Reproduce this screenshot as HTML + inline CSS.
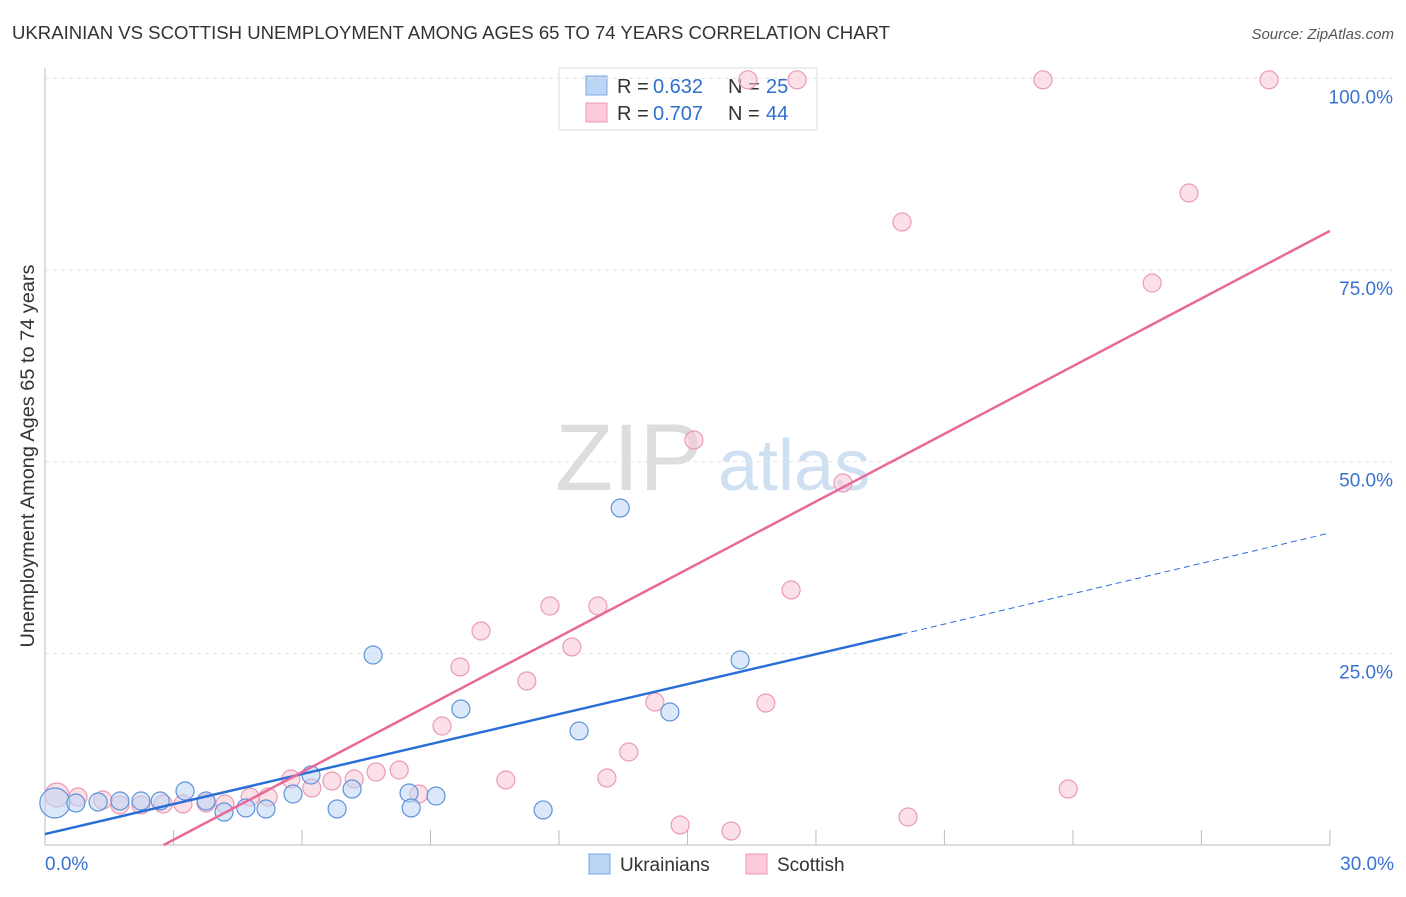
<!DOCTYPE html>
<html><head><meta charset="utf-8"><style>
body{margin:0;background:#fff;font-family:"Liberation Sans",sans-serif}
svg text{font-family:"Liberation Sans",sans-serif}
</style></head><body>
<svg id="c" width="1406" height="892">
<text x="12" y="39" font-size="18" fill="#333" textLength="878" lengthAdjust="spacingAndGlyphs">UKRAINIAN VS SCOTTISH UNEMPLOYMENT AMONG AGES 65 TO 74 YEARS CORRELATION CHART</text>
<text x="1394" y="39" font-size="15" fill="#555" text-anchor="end" font-style="italic">Source: ZipAtlas.com</text>
<text x="34" y="456" font-size="19" fill="#333" text-anchor="middle" textLength="383" lengthAdjust="spacingAndGlyphs" transform="rotate(-90 34 456)">Unemployment Among Ages 65 to 74 years</text>
<g><text x="555" y="490" font-size="95" fill="#ddd" font-family="Liberation Serif">ZIP</text><text x="718" y="490" font-size="72" fill="#cfe0f3">atlas</text></g>
<g>
<rect x="559" y="68" width="258" height="62" fill="#fff" stroke="#ddd"/>
<rect x="586" y="76" width="21" height="19" fill="#bcd5f5" stroke="#7aa6e0"/>
<text x="617" y="93" font-size="20" fill="#333">R =</text><text x="653" y="93" font-size="20" fill="#2f6fd0">0.632</text>
<text x="728" y="93" font-size="20" fill="#333">N =</text><text x="766" y="93" font-size="20" fill="#2f6fd0">25</text>
<rect x="586" y="103" width="21" height="19" fill="#fccadb" stroke="#ec9bb6"/>
<text x="617" y="120" font-size="20" fill="#333">R =</text><text x="653" y="120" font-size="20" fill="#2f6fd0">0.707</text>
<text x="728" y="120" font-size="20" fill="#333">N =</text><text x="766" y="120" font-size="20" fill="#2f6fd0">44</text>
</g>
<g id="grid"></g><g id="marks"></g>
<g>
<rect x="589" y="854" width="21" height="20" fill="#bcd5f5" stroke="#7aa6e0"/><text x="620" y="871" font-size="19" fill="#333">Ukrainians</text>
<rect x="746" y="854" width="21" height="20" fill="#fccadb" stroke="#ec9bb6"/><text x="777" y="871" font-size="19" fill="#333">Scottish</text>
</g>
</svg>
<script>
const blueX=[0.23,0.72,1.24,1.75,2.24,2.69,3.27,3.76,4.18,4.69,5.16,5.79,6.21,6.82,7.17,7.66,8.50,8.55,9.13,9.71,11.63,12.47,13.43,14.59,16.23];
const blueY=[5.48,5.48,5.61,5.74,5.74,5.74,7.04,5.74,4.30,4.83,4.70,6.65,9.13,4.70,7.30,24.78,6.78,4.83,6.39,17.74,4.57,14.87,43.95,17.35,24.13];
const pinkX=[0.28,0.77,1.35,1.75,2.24,2.76,3.22,3.76,4.20,4.79,5.21,5.74,6.23,6.70,7.22,7.73,8.27,8.73,9.27,9.69,10.18,10.76,11.25,11.79,12.30,12.91,13.12,13.63,14.24,14.83,15.15,16.02,16.41,16.83,17.42,17.56,18.63,20.01,20.15,23.30,23.89,25.85,26.71,28.58];
const pinkY=[6.52,6.26,5.87,5.22,5.22,5.35,5.35,5.48,5.35,6.26,6.26,8.61,7.43,8.35,8.61,9.52,9.78,6.65,15.52,23.22,27.91,8.48,21.39,31.17,25.83,31.17,8.74,12.13,18.65,2.61,52.82,1.83,99.8,18.52,33.26,99.8,47.22,81.26,3.65,99.8,7.30,73.30,85.04,99.8];
const blueTrend=[[0,1.43],[20.0,27.5],[30,40.7]];
const pinkTrend=[[2.77,0],[30,80.1]];
const yTicks=[25,50,75,100];
const xTicks=[0,3,6,9,12,15,18,21,24,27,30];
const NS="http://www.w3.org/2000/svg";
const sx=v=>45+v*42.83, sy=v=>845-v*7.667;
function mk(t,a,p){const e=document.createElementNS(NS,t);for(const k in a)e.setAttribute(k,a[k]);p.appendChild(e);return e;}
const g=document.getElementById('grid'), m=document.getElementById('marks');
yTicks.forEach(v=>{
 const l=mk('line',{x1:45,x2:1394,y1:sy(v),y2:sy(v),stroke:'#e3e3e3','stroke-dasharray':'4 4'},g);
 
 
 const t=mk('text',{x:1393,y:sy(v)+25,'font-size':19,fill:'#3a72d0','text-anchor':'end'},g);t.textContent=v.toFixed(1)+'%';
 
 
});
mk('line',{x1:45,x2:45,y1:68,y2:845,stroke:'#bbb'},g);
mk('line',{x1:45,x2:1330,y1:845,y2:845,stroke:'#bbb'},g);
xTicks.forEach(v=>{const l=mk('line',{x1:sx(v),x2:sx(v),y1:830,y2:845,stroke:'#bbb'},g);
 
 });
[[0,'0.0%','start',45],[30,'30.0%','end',1394]].forEach(a=>{const t=mk('text',{x:a[3],y:870,'font-size':19,fill:'#3a72d0','text-anchor':a[2]},g);t.textContent=a[1];
 
 });
function dots(X,Y,fill,stroke,name){X.forEach((x,i)=>{const r=i==0?(name=='blue-point'?15:12):9;
 const c=mk('circle',{cx:sx(x),cy:sy(Y[i]),r:r,fill:fill,'fill-opacity':0.55,stroke:stroke,'stroke-width':1.2},m);
 
 });}
dots(pinkX,pinkY,'#f8c6d6','#eb9ab5','scottish-point');
dots(blueX,blueY,'#bcd5f5','#5f93dc','blue-point');
const bl=mk('line',{x1:sx(blueTrend[0][0]),y1:sy(blueTrend[0][1]),x2:sx(blueTrend[1][0]),y2:sy(blueTrend[1][1]),stroke:'#2a6fd6','stroke-width':2.5},m);


const bd=mk('line',{x1:sx(blueTrend[1][0]),y1:sy(blueTrend[1][1]),x2:sx(blueTrend[2][0]),y2:sy(blueTrend[2][1]),stroke:'#2a6fd6','stroke-width':1,'stroke-dasharray':'6 4'},m);


const pl=mk('line',{x1:sx(pinkTrend[0][0]),y1:sy(pinkTrend[0][1]),x2:sx(pinkTrend[1][0]),y2:sy(pinkTrend[1][1]),stroke:'#e8689a','stroke-width':2.5},m);


</script>
</body></html>
